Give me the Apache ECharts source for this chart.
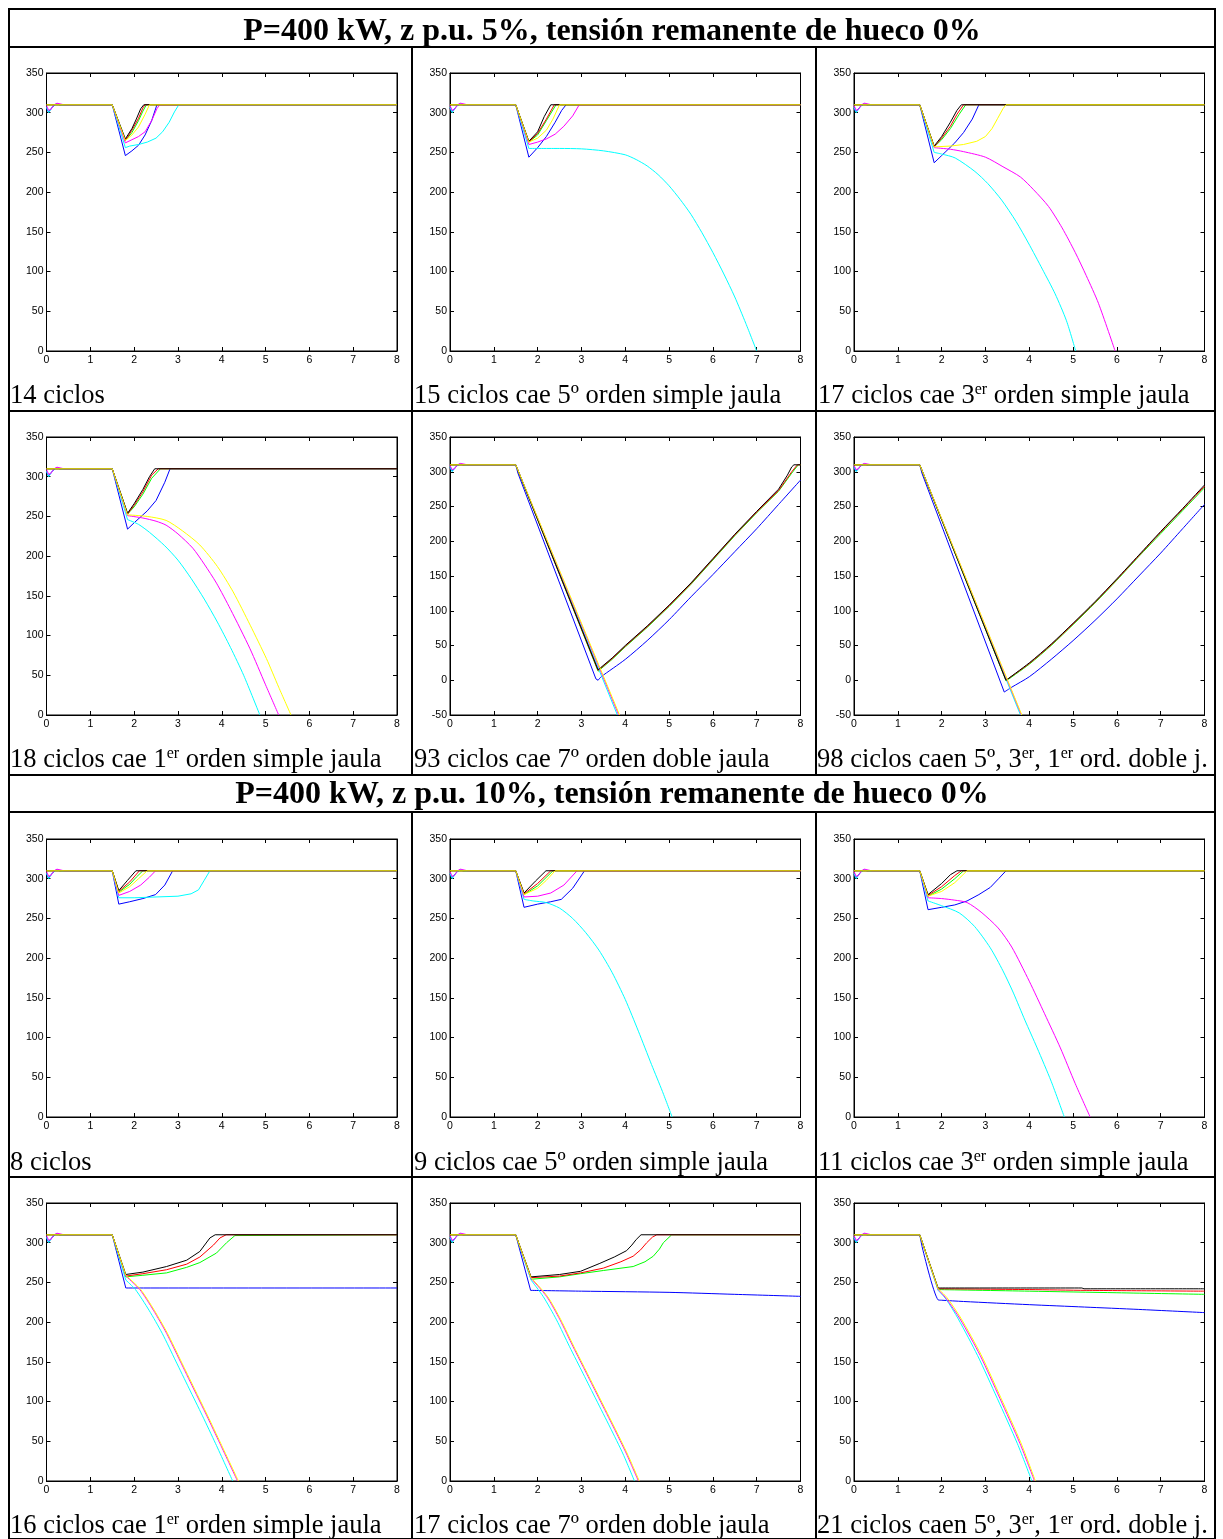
<!DOCTYPE html>
<html>
<head>
<meta charset="utf-8">
<title>Huecos de tensión 0% - velocidad</title>
<script src="https://cdn.jsdelivr.net/npm/echarts/dist/echarts.min.js"></script>
<style>
  body { margin: 0; background: #fff; }
  #chart { position: absolute; left: 0; top: 0; width: 1223px; height: 1539px; }
  .h { position: absolute; height: 2px; background: #000; }
  .v { position: absolute; width: 2px; background: #000; }
  .head {
    position: absolute; left: 8px; width: 1208px; text-align: center;
    font: bold 32px/32px 'Liberation Serif', 'Times New Roman', serif; white-space: nowrap;
  }
  .cap {
    position: absolute; font: 26.5px/26.5px 'Liberation Serif', 'Times New Roman', serif;
    white-space: nowrap;
  }
  .cap sup { font-size: 16px; line-height: 0; vertical-align: 9px; }
</style>
</head>
<body>
<div id="chart"></div>

<!-- table lines -->
<div class="h" style="left:8px;top:8px;width:1208px"></div>
<div class="h" style="left:8px;top:46px;width:1208px"></div>
<div class="h" style="left:8px;top:410px;width:1208px"></div>
<div class="h" style="left:8px;top:774px;width:1208px"></div>
<div class="h" style="left:8px;top:811px;width:1208px"></div>
<div class="h" style="left:8px;top:1176px;width:1208px"></div>
<div class="h" style="left:8px;top:1538px;width:1208px"></div>
<div class="v" style="left:8px;top:8px;height:1532px"></div>
<div class="v" style="left:1214px;top:8px;height:1532px"></div>
<div class="v" style="left:411px;top:46px;height:730px"></div>
<div class="v" style="left:815px;top:46px;height:730px"></div>
<div class="v" style="left:411px;top:811px;height:729px"></div>
<div class="v" style="left:815px;top:811px;height:729px"></div>

<div class="head" style="top:12.5px">P=400 kW, z p.u. 5%, tensión remanente de hueco 0%</div>
<div class="head" style="top:776px">P=400 kW, z p.u. 10%, tensión remanente de hueco 0%</div>

<div class="cap" style="left:10px;top:381px">14 ciclos</div>
<div class="cap" style="left:414px;top:381px">15 ciclos cae 5º orden simple jaula</div>
<div class="cap" style="left:818px;top:381px">17 ciclos cae 3<sup>er</sup> orden simple jaula</div>
<div class="cap" style="left:10px;top:744.5px">18 ciclos cae 1<sup>er</sup> orden simple jaula</div>
<div class="cap" style="left:414px;top:744.5px">93 ciclos cae 7º orden doble jaula</div>
<div class="cap" style="left:817px;top:744.5px">98 ciclos caen 5º, 3<sup>er</sup>, 1<sup>er</sup> ord. doble j.</div>
<div class="cap" style="left:10px;top:1148px">8 ciclos</div>
<div class="cap" style="left:414px;top:1148px">9 ciclos cae 5º orden simple jaula</div>
<div class="cap" style="left:818px;top:1148px">11 ciclos cae 3<sup>er</sup> orden simple jaula</div>
<div class="cap" style="left:10px;top:1511px">16 ciclos cae 1<sup>er</sup> orden simple jaula</div>
<div class="cap" style="left:414px;top:1511px">17 ciclos cae 7º orden doble jaula</div>
<div class="cap" style="left:817px;top:1511px">21 ciclos caen 5º, 3<sup>er</sup>, 1<sup>er</sup> ord. doble j.</div>

<script>
// Axis ranges
const xMin = 0, xMax = 8, xStep = 1;
const yMax = 350, yStep = 50;
const yMins = [0, 0, 0, 0, -50, -50, 0, 0, 0, 0, 0, 0];

// Series order in every plot: blue, green, red, cyan, magenta, yellow, black
const lineColors = ['#0000ff', '#00ff00', '#ff0000', '#00ffff', '#ff00ff', '#ffff00', '#000000'];

// Pre-fault part (0 .. 1.5) incl. start-up transient
const startBlue = [[0, 306], [0.04, 301], [0.08, 301], [0.15, 308], [0.22, 311], [0.3, 310], [1.5, 310]];
const startCyan = [[0, 307], [0.05, 300], [0.09, 301], [0.16, 309], [0.24, 311], [0.35, 310], [1.5, 310]];
const startMagenta = [[0, 309], [0.05, 303], [0.1, 304], [0.17, 310], [0.24, 312], [0.4, 310], [1.5, 310]];
const startFlat = [[0, 310], [1.5, 310]];

// P=400 kW, z 5%
const ciclos14 = [
  [[1.8, 246], [1.95, 252], [2.1, 259], [2.25, 272], [2.4, 290], [2.52, 310], [8, 310]],
  [[1.8, 265], [1.95, 275], [2.1, 290], [2.2, 302], [2.28, 310], [8, 310]],
  [[1.8, 265], [1.95, 278], [2.1, 293], [2.2, 306], [2.25, 310], [8, 310]],
  [[1.8, 256], [1.9, 258], [2.1, 260], [2.3, 263], [2.5, 268], [2.65, 276], [2.8, 288], [2.92, 301], [3.02, 310], [8, 310]],
  [[1.8, 262], [1.95, 266], [2.1, 270], [2.25, 276], [2.4, 290], [2.52, 305], [2.58, 310], [8, 310]],
  [[1.8, 265], [1.95, 272], [2.1, 282], [2.25, 298], [2.35, 310], [8, 310]],
  [[1.8, 267], [1.95, 280], [2.05, 292], [2.15, 305], [2.22, 310], [8, 310]]
];
const ciclos15 = [
  [[1.8, 244], [2.0, 256], [2.2, 270], [2.4, 288], [2.55, 303], [2.65, 310], [8, 310]],
  [[1.8, 263], [2.0, 272], [2.2, 290], [2.42, 310], [8, 310]],
  [[1.8, 263], [2.0, 274], [2.2, 292], [2.38, 310], [8, 310]],
  [[1.8, 255], [2.5, 255], [3.0, 254.5], [3.5, 252], [4.0, 247], [4.25, 241], [4.5, 233], [4.75, 222], [5.0, 208], [5.25, 191],
   [5.5, 172], [5.75, 149], [6.0, 124], [6.25, 97], [6.5, 68], [6.75, 35], [7.0, 0]],
  [[1.8, 260], [2.0, 263], [2.2, 267], [2.4, 273], [2.6, 283], [2.8, 296], [2.95, 310], [8, 310]],
  [[1.8, 263], [2.0, 268], [2.2, 278], [2.35, 292], [2.5, 310], [8, 310]],
  [[1.8, 264], [2.0, 276], [2.15, 295], [2.3, 310], [8, 310]]
];
const ciclos17a = [
  [[1.83, 237], [2.0, 246], [2.3, 262], [2.5, 275], [2.7, 292], [2.85, 310], [8, 310]],
  [[1.83, 257], [2.0, 266], [2.2, 280], [2.4, 298], [2.55, 310], [8, 310]],
  [[1.83, 257], [2.0, 268], [2.2, 283], [2.35, 298], [2.5, 310], [8, 310]],
  [[1.83, 250], [2.0, 248], [2.31, 243], [2.76, 226], [3.05, 211], [3.37, 190], [3.7, 163], [3.98, 136], [4.3, 103], [4.59, 72], [4.85, 38], [5.06, 0]],
  [[1.83, 256], [2.2, 254], [2.5, 251], [3.0, 244], [3.4, 232], [3.8, 219], [4.1, 203], [4.44, 182], [4.75, 155], [5.05, 124], [5.3, 95], [5.58, 60], [5.96, 0]],
  [[1.83, 257], [2.2, 258], [2.5, 260], [2.8, 264], [3.0, 270], [3.15, 280], [3.28, 293], [3.4, 305], [3.47, 310], [8, 310]],
  [[1.83, 258], [2.0, 270], [2.2, 288], [2.35, 303], [2.45, 310], [8, 310]]
];
const ciclos18 = [
  [[1.85, 234], [2.0, 242], [2.3, 257], [2.5, 270], [2.7, 293], [2.82, 310], [8, 310]],
  [[1.85, 253], [2.0, 262], [2.2, 278], [2.4, 298], [2.6, 310], [8, 310]],
  [[1.85, 253], [2.0, 264], [2.2, 281], [2.4, 302], [2.55, 310], [8, 310]],
  [[1.85, 246], [2.1, 240], [2.35, 230], [2.7, 213], [3.0, 195], [3.3, 172], [3.6, 146], [3.9, 117], [4.2, 85], [4.5, 50], [4.87, 0]],
  [[1.85, 251], [2.2, 248], [2.5, 244], [2.73, 239], [3.0, 228], [3.34, 210], [3.6, 190], [3.88, 166], [4.2, 133], [4.64, 84], [5.0, 38], [5.3, 0]],
  [[1.85, 252], [2.3, 250], [2.73, 245], [3.1, 232], [3.5, 214], [3.9, 187], [4.26, 155], [4.65, 113], [5.02, 71], [5.3, 35], [5.58, 0]],
  [[1.85, 254], [2.0, 266], [2.2, 284], [2.35, 300], [2.47, 310], [8, 310]]
];
const ciclos93 = [
  [[1.55, 298], [3.33, 2], [3.38, 0], [3.45, 5], [4.0, 30], [4.5, 57], [5.0, 87], [5.5, 120], [6.0, 152], [6.5, 185], [7.0, 218], [7.5, 253], [8, 288]],
  [[3.38, 13], [3.7, 30], [4.0, 48], [4.5, 76], [5.0, 106], [5.5, 138], [6.0, 173], [6.5, 208], [7.0, 241], [7.5, 272], [7.8, 298], [7.95, 310], [8, 310]],
  [[3.38, 14], [3.7, 31], [4.0, 49], [4.5, 77], [5.0, 107], [5.5, 139], [6.0, 174], [6.5, 209], [7.0, 242], [7.5, 273], [7.8, 300], [7.93, 310], [8, 310]],
  [[3.82, -50]],
  [[3.85, -50]],
  [[3.87, -50]],
  [[3.38, 15], [3.7, 32], [4.0, 50], [4.5, 78], [5.0, 108], [5.5, 140], [6.0, 175], [6.5, 210], [7.0, 243], [7.5, 275], [7.7, 295], [7.8, 307], [7.85, 310], [8, 310]]
];
const ciclos98 = [
  [[1.55, 298], [3.43, -17], [3.6, -10], [4.0, 5], [4.5, 30], [5.0, 57], [5.5, 86], [6.0, 117], [6.5, 150], [7.0, 183], [7.5, 218], [8, 253]],
  [[3.47, -1], [4.0, 23], [4.5, 50], [5.0, 80], [5.5, 111], [6.0, 144], [6.5, 178], [7.0, 211], [7.5, 244], [8, 277]],
  [[3.47, 0], [4.0, 24], [4.5, 51], [5.0, 81], [5.5, 112], [6.0, 145], [6.5, 179], [7.0, 213], [7.5, 246], [8, 279]],
  [[3.8, -50]],
  [[3.82, -50]],
  [[3.83, -50]],
  [[3.47, 0], [4.0, 25], [4.5, 52], [5.0, 82], [5.5, 113], [6.0, 146], [6.5, 180], [7.0, 214], [7.5, 247], [8, 281]]
];

// P=400 kW, z 10%
const ciclos8 = [
  [[1.65, 268], [1.9, 271], [2.2, 275], [2.49, 280], [2.7, 292], [2.88, 310], [8, 310]],
  [[1.65, 283], [1.9, 293], [2.05, 302], [2.2, 310], [8, 310]],
  [[1.65, 284], [1.9, 296], [2.12, 310], [8, 310]],
  [[1.65, 276], [2.0, 276], [2.5, 277], [3.0, 278], [3.3, 281], [3.47, 286], [3.6, 298], [3.73, 310], [8, 310]],
  [[1.65, 279], [1.9, 284], [2.15, 292], [2.35, 302], [2.49, 310], [8, 310]],
  [[1.65, 282], [1.9, 290], [2.1, 300], [2.3, 310], [8, 310]],
  [[1.65, 285], [1.85, 298], [2.04, 310], [8, 310]]
];
const ciclos9 = [
  [[1.69, 264], [2.0, 268], [2.3, 271], [2.54, 274], [2.8, 288], [3.07, 310], [8, 310]],
  [[1.69, 280], [2.0, 291], [2.35, 310], [8, 310]],
  [[1.69, 281], [2.0, 294], [2.3, 310], [8, 310]],
  [[1.69, 274], [1.9, 272], [2.19, 270], [2.5, 263], [2.8, 250], [3.1, 232], [3.4, 210], [3.7, 182], [4.0, 148], [4.3, 108], [4.6, 66], [4.85, 32], [5.07, 0]],
  [[1.69, 277], [2.0, 278], [2.3, 282], [2.6, 292], [2.9, 310], [8, 310]],
  [[1.69, 280], [2.0, 288], [2.2, 298], [2.4, 310], [8, 310]],
  [[1.69, 282], [1.95, 297], [2.19, 310], [8, 310]]
];
const ciclos11 = [
  [[1.69, 261], [2.0, 264], [2.3, 267], [2.58, 272], [2.85, 280], [3.11, 289], [3.3, 300], [3.47, 310], [8, 310]],
  [[1.69, 278], [2.0, 287], [2.3, 300], [2.5, 310], [8, 310]],
  [[1.69, 279], [2.0, 290], [2.3, 304], [2.45, 310], [8, 310]],
  [[1.69, 272], [2.0, 266], [2.4, 257], [2.75, 240], [3.11, 213], [3.4, 184], [3.64, 156], [3.9, 122], [4.18, 87], [4.5, 45], [4.8, 0]],
  [[1.69, 276], [2.0, 275], [2.3, 273], [2.58, 270], [2.9, 258], [3.29, 238], [3.6, 214], [4.0, 171], [4.35, 130], [4.71, 87], [5.05, 42], [5.39, 0]],
  [[1.69, 278], [2.0, 284], [2.3, 295], [2.58, 310], [8, 310]],
  [[1.69, 280], [2.0, 294], [2.2, 305], [2.35, 310], [8, 310]]
];
const ciclos16 = [
  [[1.81, 243], [8, 243]],
  [[1.81, 257], [2.2, 259], [2.74, 262], [3.2, 269], [3.5, 275], [3.88, 287], [4.11, 300], [4.3, 309], [4.34, 310], [8, 310]],
  [[1.81, 258], [2.2, 261], [2.74, 266], [3.2, 273], [3.5, 282], [3.81, 297], [3.96, 306], [4.1, 310], [8, 310]],
  [[1.81, 253], [2.03, 241], [2.34, 215], [2.64, 186], [2.95, 151], [3.25, 117], [3.56, 82], [3.86, 47], [4.25, 0]],
  [[1.81, 258], [2.13, 241], [2.44, 215], [2.74, 186], [3.05, 151], [3.35, 117], [3.66, 82], [3.96, 47], [4.36, 0]],
  [[1.81, 259], [2.15, 241], [2.46, 215], [2.76, 186], [3.07, 151], [3.37, 117], [3.68, 82], [3.98, 47], [4.38, 0]],
  [[1.81, 260], [2.2, 263], [2.74, 270], [3.2, 278], [3.5, 289], [3.73, 306], [3.85, 310], [8, 310]]
];
const ciclos17b = [
  [[1.84, 240], [3.0, 239], [5.0, 237.5], [6.5, 235], [8, 232.5]],
  [[1.85, 254], [2.5, 257], [2.98, 261], [3.5, 265], [4.18, 270], [4.45, 276], [4.64, 283], [4.78, 292], [4.87, 300], [5.06, 310], [8, 310]],
  [[1.85, 256], [2.5, 258], [2.98, 262], [3.5, 268], [3.9, 276], [4.18, 283], [4.35, 291], [4.49, 300], [4.62, 307], [4.72, 310], [8, 310]],
  [[1.85, 253], [2.13, 232], [2.43, 203], [2.73, 169], [3.04, 135], [3.34, 102], [3.65, 68], [3.95, 34], [4.21, 0]],
  [[1.85, 255], [2.21, 232], [2.51, 203], [2.81, 169], [3.12, 135], [3.42, 102], [3.73, 68], [4.03, 34], [4.3, 0]],
  [[1.85, 256], [2.23, 232], [2.53, 203], [2.83, 169], [3.14, 135], [3.44, 102], [3.75, 68], [4.05, 34], [4.32, 0]],
  [[1.85, 257], [2.5, 260], [2.98, 264], [3.42, 274], [3.75, 282], [4.03, 290], [4.15, 297], [4.25, 304], [4.36, 310], [8, 310]]
];
const ciclos21 = [
  [[1.55, 296], [1.92, 228], [2.0, 227.6], [2.5, 226], [4.0, 222], [5.26, 219], [6.5, 216], [8, 212]],
  [[1.92, 241], [4.0, 239], [6.0, 237], [8, 235]],
  [[1.92, 242], [4.0, 241], [5.3, 240], [8, 239]],
  [[1.92, 240], [2.1, 229], [2.38, 204], [2.82, 158], [3.27, 104], [3.73, 47], [4.06, 0]],
  [[1.92, 241], [2.1, 230], [2.42, 204], [2.88, 158], [3.33, 104], [3.79, 47], [4.12, 0]],
  [[1.92, 242], [2.12, 231], [2.44, 205], [2.9, 159], [3.35, 105], [3.81, 48], [4.14, 0]],
  [[1.92, 243], [5.2, 243], [5.25, 242], [8, 242]]
];

const plots = [ciclos14, ciclos15, ciclos17a, ciclos18, ciclos93, ciclos98,
               ciclos8, ciclos9, ciclos11, ciclos16, ciclos17b, ciclos21];
const starts = [startBlue, startFlat, startFlat, startCyan, startMagenta, startFlat, startFlat];

// yellow drawn after black (flat line looks yellow where all overlap)
const drawOrder = [0, 1, 2, 3, 4, 6, 5];

// grid placement in the table cells
const gridLefts = [46.5, 450, 854];
const gridTops = [73, 437, 839, 1203];
const gridW = 350.5, gridH = 278;

const labelStyle = {
    fontSize: 10.5,
    color: '#000',
    fontFamily: "'Liberation Sans', Arial, sans-serif"
};

const grids = [], xAxes = [], yAxes = [], series = [];

function lineSeries(p, color, data, smooth) {
    return {
        type: 'line',
        xAxisIndex: p * 2,
        yAxisIndex: p * 2,
        data: data,
        smooth: smooth,
        showSymbol: false,
        symbol: 'none',
        clip: true,
        lineStyle: { color: color, width: 1 },
        itemStyle: { color: color },
        emphasis: { disabled: true }
    };
}

// index of the dip (first local minimum) in a tail, 0 if it only falls
function dipIndex(tail) {
    for (let k = 0; k < tail.length - 1; k++) {
        if (tail[k + 1][1] > tail[k][1]) return k;
    }
    return 0;
}

plots.forEach(function(tails, p) {
    const row = Math.floor(p / 3), col = p % 3;
    grids.push({
        left: gridLefts[col], top: gridTops[row], width: gridW, height: gridH,
        show: true, borderColor: '#000', borderWidth: 1, backgroundColor: '#fff'
    });

    ['bottom', 'top'].forEach(function(pos) {
        xAxes.push({
            type: 'value', gridIndex: p, position: pos,
            min: xMin, max: xMax, interval: xStep,
            axisLine: { show: true, onZero: false, lineStyle: { color: '#000', width: 1 } },
            axisTick: { show: true, inside: true, length: 4, lineStyle: { color: '#000', width: 1 } },
            axisLabel: Object.assign({ show: pos === 'bottom', margin: 4 }, labelStyle),
            splitLine: { show: false }
        });
    });
    ['left', 'right'].forEach(function(pos) {
        yAxes.push({
            type: 'value', gridIndex: p, position: pos,
            min: yMins[p], max: yMax, interval: yStep,
            axisLine: { show: true, onZero: false, lineStyle: { color: '#000', width: 1 } },
            axisTick: { show: true, inside: true, length: 4, lineStyle: { color: '#000', width: 1 } },
            axisLabel: Object.assign({ show: pos === 'left', margin: 3 }, labelStyle),
            splitLine: { show: false }
        });
    });

    drawOrder.forEach(function(i) {
        const tail = tails[i];
        const k = dipIndex(tail);
        // sharp part: pre-fault + descent to the dip
        series.push(lineSeries(p, lineColors[i], starts[i].concat(tail.slice(0, k + 1)), false));
        // after the dip: curves that do not come back to 310 are drawn smooth
        const recovers = tail[tail.length - 1][1] >= 305;
        series.push(lineSeries(p, lineColors[i], tail.slice(k), recovers ? false : 0.25));
    });
});

const chart = echarts.init(document.getElementById('chart'));
chart.setOption({
    animation: false,
    grid: grids,
    xAxis: xAxes,
    yAxis: yAxes,
    series: series
});
</script>
</body>
</html>
